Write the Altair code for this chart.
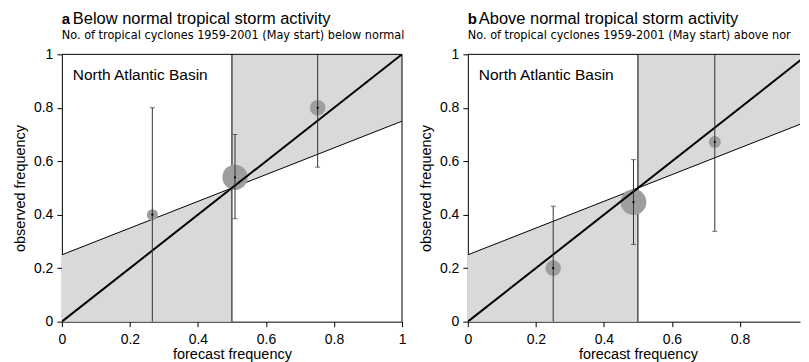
import altair as alt
import pandas as pd

# ---------------- data ----------------
climatology = 0.5
tick_values = [0, 0.2, 0.4, 0.6, 0.8, 1]

panel_letters = ["a", "b"]
panel_titles = ["Below normal tropical storm activity", "Above normal tropical storm activity"]
panel_subtitles = [
    "No. of tropical cyclones 1959-2001 (May start) below normal",
    "No. of tropical cyclones 1959-2001 (May start) above normal",
]
basin_label = "North Atlantic Basin"

# panel a (below normal)
fc_a = [0.266, 0.509, 0.752]
obs_a = [0.40, 0.54, 0.80]
lo_a = [0.0, 0.385, 0.578]
hi_a = [0.80, 0.70, 1.0]
n_a = [5, 26, 10]

# panel b (above normal)
fc_b = [0.251, 0.487, 0.726]
obs_b = [0.20, 0.447, 0.672]
lo_b = [0.0, 0.289, 0.338]
hi_b = [0.432, 0.606, 1.0]
n_b = [10, 27, 6]

FONT = "Liberation Sans, Arial, Helvetica, sans-serif"
NARROW = "Liberation Sans Narrow, Arial Narrow, DejaVu Sans Condensed, sans-serif"
H = 268
CUT = "\u200b"


def panel(letter, title, subtitle, fc, obs, lo, hi, n, width, xmax, sub_limit, right_border):
    xs = alt.Scale(domain=[0, xmax], nice=False, zero=False)
    ys = alt.Scale(domain=[0, 1], nice=False, zero=False)
    xvals = [v for v in tick_values if v <= xmax]
    xax = alt.Axis(values=xvals, format="~g", title="forecast frequency",
                   titleX=0.5 * 341)
    yax = alt.Axis(values=tick_values, format="~g", title="observed frequency")

    c = climatology
    shade = pd.DataFrame({
        "x": [0, c, c, 1],
        "lo": [0, 0, (c + c) / 2, (1 + c) / 2],
        "hi": [c / 2, (c + c) / 2, 1, 1],
        "seg": [0, 0, 1, 1],
    })
    shade_ch = alt.Chart(shade).mark_area(color="#d9d9d9", opacity=1, clip=True).encode(
        x=alt.X("x:Q", scale=xs, axis=xax),
        y=alt.Y("lo:Q", scale=ys, axis=yax),
        y2="hi:Q",
        detail="seg:N",
    )
    vline = alt.Chart(pd.DataFrame({"x": [c], "y0": [0], "y1": [1]})).mark_rule(
        color="black", strokeWidth=1
    ).encode(x="x:Q", y="y0:Q", y2="y1:Q")

    # frame (top and, if visible, right side)
    top = alt.Chart(pd.DataFrame({"x0": [0], "x1": [xmax], "y": [1]})).mark_rule(
        color="black", strokeWidth=1
    ).encode(x="x0:Q", x2="x1:Q", y="y:Q")
    layers = [shade_ch, vline, top]
    if right_border:
        right = alt.Chart(pd.DataFrame({"x": [1], "y0": [0], "y1": [1]})).mark_rule(
            color="black", strokeWidth=1
        ).encode(x="x:Q", y="y0:Q", y2="y1:Q")
        layers.append(right)

    noskill = alt.Chart(pd.DataFrame({"x": [0, 1], "y": [c / 2, (1 + c) / 2]})).mark_line(
        color="black", strokeWidth=1, clip=True
    ).encode(x="x:Q", y="y:Q")
    diag = alt.Chart(pd.DataFrame({"x": [0, 1], "y": [0, 1]})).mark_line(
        color="black", strokeWidth=2, clip=True
    ).encode(x="x:Q", y="y:Q")

    pts = pd.DataFrame({"fc": fc, "obs": obs, "lo": lo, "hi": hi, "n": n})
    circles = alt.Chart(pts).mark_circle(color="#9e9e9e", opacity=1).encode(
        x="fc:Q", y="obs:Q",
        size=alt.Size("n:Q", scale=alt.Scale(domain=[0, 30], range=[0, 740]), legend=None),
    )
    bars = alt.Chart(pts).mark_rule(color="#333333", strokeWidth=1).encode(
        x="fc:Q", y="lo:Q", y2="hi:Q"
    )
    caps_lo = alt.Chart(pts).transform_filter("datum.lo > 0").mark_tick(
        color="#333333", orient="horizontal", size=5, thickness=1
    ).encode(x="fc:Q", y="lo:Q")
    caps_hi = alt.Chart(pts).transform_filter("datum.hi < 1").mark_tick(
        color="#333333", orient="horizontal", size=5, thickness=1
    ).encode(x="fc:Q", y="hi:Q")
    dots = alt.Chart(pts).mark_circle(color="black", opacity=1, size=5).encode(
        x="fc:Q", y="obs:Q"
    )

    t_letter = alt.Chart(pd.DataFrame({"t": [letter]})).mark_text(
        font=FONT, fontSize=15, fontWeight="bold", align="left", baseline="alphabetic", color="black"
    ).encode(text="t:N", x=alt.value(0), y=alt.value(-30))
    t_title = alt.Chart(pd.DataFrame({"t": [title]})).mark_text(
        font=FONT, fontSize=16.5, align="left", baseline="alphabetic", color="black"
    ).encode(text="t:N", x=alt.value(11), y=alt.value(-30))
    t_sub = alt.Chart(pd.DataFrame({"t": [subtitle]})).mark_text(
        font=NARROW, fontSize=12.6, align="left", baseline="alphabetic", color="black",
        limit=sub_limit, ellipsis=CUT
    ).encode(text="t:N", x=alt.value(0), y=alt.value(-15))
    t_basin = alt.Chart(pd.DataFrame({"t": [basin_label]})).mark_text(
        font=FONT, fontSize=15.5, align="left", baseline="alphabetic", color="black"
    ).encode(text="t:N", x=alt.value(11), y=alt.value(26))

    layers += [noskill, circles, diag, bars, caps_lo, caps_hi, dots,
               t_letter, t_title, t_sub, t_basin]
    return alt.layer(*layers).properties(width=width, height=H)


# panel b is cut at the right page edge, as in the reference
pa = panel(panel_letters[0], panel_titles[0], panel_subtitles[0], fc_a, obs_a, lo_a, hi_a, n_a,
           341, 1.0, 400, True)
pb = panel(panel_letters[1], panel_titles[1], panel_subtitles[1], fc_b, obs_b, lo_b, hi_b, n_b,
           333, 333 / 341, 333, False)

chart = alt.hconcat(pa, pb, spacing=66, bounds="flush").properties(
    padding={"left": 4, "top": 3, "right": 0, "bottom": 0}
).configure_view(
    stroke=None
).configure_axis(
    grid=False,
    domainColor="black",
    tickColor="black",
    tickSize=5,
    labelPadding=4,
    labelFont=FONT,
    labelFontSize=14,
    labelColor="black",
    titleFont=FONT,
    titleFontSize=14.5,
    titleFontWeight="normal",
    titleColor="black",
    titlePadding=6,
    labelFlush=False,
    labelOverlap=False,
).configure_axisX(titlePadding=1, labelPadding=6)

chart.save("out.html", embed_options={"renderer": "svg", "actions": False})
